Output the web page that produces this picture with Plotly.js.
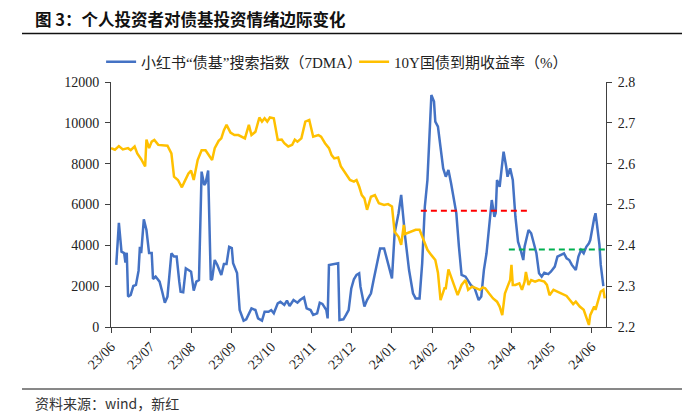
<!DOCTYPE html>
<html>
<head>
<meta charset="utf-8">
<script src="https://cdn.plot.ly/plotly-3.0.1.min.js"></script>
<style>html,body{margin:0;padding:0;background:#fff;}#chart{width:700px;height:420px;}</style>
</head>
<body>
<div id="chart"></div>
<script>
// ---- Data ----
const searchDates = [
'2023-06-05','2023-06-07','2023-06-09','2023-06-11','2023-06-12','2023-06-13','2023-06-14','2023-06-16','2023-06-18','2023-06-20',
'2023-06-22','2023-06-23','2023-06-24','2023-06-26','2023-06-28','2023-06-30','2023-07-02','2023-07-03','2023-07-05','2023-07-08',
'2023-07-10','2023-07-12','2023-07-14','2023-07-16','2023-07-17','2023-07-19','2023-07-21','2023-07-23','2023-07-24','2023-07-26',
'2023-07-28','2023-07-30','2023-08-01','2023-08-03','2023-08-05','2023-08-07','2023-08-09','2023-08-11','2023-08-12','2023-08-14',
'2023-08-16','2023-08-17','2023-08-19','2023-08-21','2023-08-24','2023-08-26','2023-08-28','2023-08-30','2023-09-01','2023-09-02',
'2023-09-05','2023-09-07','2023-09-10','2023-09-12','2023-09-16','2023-09-19','2023-09-21','2023-09-24','2023-09-26','2023-09-29',
'2023-10-01','2023-10-03','2023-10-06','2023-10-08','2023-10-11','2023-10-13','2023-10-15','2023-10-18','2023-10-21','2023-10-23',
'2023-10-26','2023-10-28','2023-10-31','2023-11-02','2023-11-05','2023-11-07','2023-11-09','2023-11-12','2023-11-13','2023-11-14',
'2023-11-17','2023-11-21','2023-11-22','2023-11-25','2023-11-27','2023-11-29','2023-12-01','2023-12-03','2023-12-05','2023-12-07',
'2023-12-08','2023-12-11','2023-12-13','2023-12-16','2023-12-18','2023-12-21','2023-12-23','2023-12-26','2023-12-28','2024-01-01',
'2024-01-03','2024-01-06','2024-01-08','2024-01-11','2024-01-14','2024-01-17','2024-01-19','2024-01-22','2024-01-24','2024-01-26',
'2024-01-28','2024-01-30','2024-01-31','2024-02-02','2024-02-03','2024-02-05','2024-02-07','2024-02-09','2024-02-11','2024-02-13',
'2024-02-15','2024-02-16','2024-02-19','2024-02-21','2024-02-23','2024-02-26','2024-03-01','2024-03-04','2024-03-07','2024-03-09',
'2024-03-11','2024-03-13','2024-03-15','2024-03-17','2024-03-19','2024-03-20','2024-03-21','2024-03-23','2024-03-24','2024-03-26',
'2024-03-28','2024-03-29','2024-03-31','2024-04-02','2024-04-04','2024-04-06','2024-04-08','2024-04-10','2024-04-11','2024-04-14',
'2024-04-16','2024-04-18','2024-04-20','2024-04-22','2024-04-24','2024-04-26','2024-04-29','2024-05-01','2024-05-04','2024-05-06',
'2024-05-09','2024-05-11','2024-05-13','2024-05-15','2024-05-17','2024-05-20','2024-05-22','2024-05-24','2024-05-26','2024-05-28',
'2024-05-30','2024-05-31','2024-06-03','2024-06-04','2024-06-05','2024-06-07','2024-06-08','2024-06-10'
];
const searchIndex = [
3040,5100,3690,3620,3150,3640,1490,1570,2010,2060,
2760,3930,3620,5270,4750,3620,3620,2350,2470,2220,
1730,1190,1490,3200,3610,3450,3450,2220,1730,1700,
2870,2790,2710,1780,2220,2300,7610,6960,7040,7660,
2300,2350,3280,3040,2550,3090,3090,3930,3870,3120,
2645,830,310,375,910,830,420,310,750,750,
830,670,1160,1240,1080,1290,1030,1320,1190,1320,
1450,910,830,590,670,1190,1130,830,420,3040,
3090,3120,340,375,590,830,1890,2340,2550,2630,
1975,1000,1320,1650,2300,3200,3850,3850,3360,2380,
4590,5570,6470,4430,2790,1650,1400,1400,3120,5890,
7200,9650,11360,11040,10060,9810,8670,7770,7360,7690,
7040,6710,5570,3930,2550,2465,2060,1890,1320,1490,
2790,3610,5080,6220,5400,5600,7200,6870,7450,8590,
7850,7360,7770,7200,5400,4180,3770,3280,3930,4750,
4590,4100,3610,2630,2465,2660,2590,2710,2960,3450,
3530,3610,3360,3280,3040,2790,3450,3770,3610,3930,
4100,4260,5320,5570,5080,4020,3040,2000
];

const yieldDates = [
'2023-06-01','2023-06-04','2023-06-07','2023-06-10','2023-06-14','2023-06-16','2023-06-19','2023-06-21','2023-06-24','2023-06-27',
'2023-06-28','2023-06-30','2023-07-02','2023-07-04','2023-07-07','2023-07-11','2023-07-14','2023-07-17','2023-07-19','2023-07-22',
'2023-07-25','2023-07-27','2023-07-30','2023-08-01','2023-08-03','2023-08-06','2023-08-09','2023-08-12','2023-08-17','2023-08-19',
'2023-08-22','2023-08-24','2023-08-26','2023-08-28','2023-08-31','2023-09-03','2023-09-06','2023-09-11','2023-09-14','2023-09-16',
'2023-09-19','2023-09-22','2023-09-24','2023-09-26','2023-09-28','2023-09-30','2023-10-03','2023-10-06','2023-10-09','2023-10-11',
'2023-10-14','2023-10-17','2023-10-19','2023-10-21','2023-10-24','2023-10-27','2023-10-30','2023-11-02','2023-11-06','2023-11-08',
'2023-11-11','2023-11-14','2023-11-16','2023-11-18','2023-11-21','2023-11-23','2023-11-25','2023-11-28','2023-11-30','2023-12-03',
'2023-12-05','2023-12-07','2023-12-09','2023-12-11','2023-12-13','2023-12-16','2023-12-19','2023-12-22','2023-12-26','2023-12-29',
'2024-01-01','2024-01-03','2024-01-06','2024-01-08','2024-01-10','2024-01-11','2024-01-15','2024-01-19','2024-01-22','2024-01-25',
'2024-01-28','2024-01-31','2024-02-03','2024-02-05','2024-02-07','2024-02-10','2024-02-11','2024-02-13','2024-02-16','2024-02-18',
'2024-02-20','2024-02-23','2024-02-26','2024-02-28','2024-03-02','2024-03-05','2024-03-08','2024-03-10','2024-03-12','2024-03-15',
'2024-03-18','2024-03-21','2024-03-23','2024-03-25','2024-03-27','2024-03-29','2024-03-31','2024-04-01','2024-04-02','2024-04-04',
'2024-04-07','2024-04-09','2024-04-11','2024-04-12','2024-04-14','2024-04-16','2024-04-19','2024-04-22','2024-04-26','2024-04-28',
'2024-04-30','2024-05-03','2024-05-06','2024-05-10','2024-05-13','2024-05-15','2024-05-18','2024-05-20','2024-05-23','2024-05-26',
'2024-05-28','2024-05-30','2024-05-31','2024-06-03','2024-06-04','2024-06-06','2024-06-08','2024-06-10','2024-06-11'
];
const yield10Y = [
2.638,2.634,2.643,2.635,2.638,2.633,2.642,2.625,2.611,2.593,
2.659,2.638,2.654,2.658,2.646,2.644,2.644,2.625,2.568,2.560,
2.542,2.556,2.576,2.583,2.560,2.609,2.633,2.633,2.609,2.638,
2.656,2.662,2.682,2.695,2.676,2.670,2.670,2.662,2.695,2.670,
2.678,2.713,2.703,2.711,2.703,2.713,2.711,2.658,2.659,2.650,
2.642,2.646,2.659,2.654,2.662,2.703,2.707,2.666,2.670,2.666,
2.650,2.638,2.621,2.613,2.615,2.594,2.584,2.572,2.560,2.556,
2.560,2.544,2.523,2.515,2.487,2.519,2.523,2.503,2.499,2.501,
2.495,2.433,2.421,2.401,2.450,2.428,2.433,2.438,2.438,2.413,
2.389,2.376,2.364,2.333,2.266,2.295,2.295,2.341,2.315,2.299,
2.278,2.303,2.315,2.291,2.299,2.295,2.291,2.297,2.295,2.282,
2.270,2.262,2.250,2.229,2.282,2.299,2.315,2.352,2.303,2.303,
2.307,2.291,2.311,2.335,2.303,2.315,2.311,2.315,2.311,2.303,
2.278,2.291,2.287,2.282,2.276,2.268,2.256,2.262,2.250,2.242,
2.225,2.205,2.229,2.250,2.242,2.266,2.287,2.291,2.270
];

// reference levels (left axis)
const redLevelDates = ['2024-01-23','2024-04-15'];
const redLevel = 5700;
const greenLevelDates = ['2024-03-30','2024-06-12'];
const greenLevel = 3800;

const monthTicks = ['2023-06-01','2023-07-01','2023-08-01','2023-09-01','2023-10-01','2023-11-01','2023-12-01',
                    '2024-01-01','2024-02-01','2024-03-01','2024-04-01','2024-05-01','2024-06-01'];
const monthLabels = ['23/06','23/07','23/08','23/09','23/10','23/11','23/12','24/01','24/02','24/03','24/04','24/05','24/06'];

const seriesNames = ['小红书“债基”搜索指数（7DMA）','10Y国债到期收益率（%）'];
const titleText = '图 3：个人投资者对债基投资情绪边际变化';
const sourceText = '资料来源：wind，新红';

// ---- Chart ----
const serif = 'Liberation Serif, Times New Roman, Noto Sans CJK SC, serif';
const axisColor = '#404040';
const tickFont = {family: serif, size: 14, color: '#222'};

const traces = [
  {x: searchDates, y: searchIndex, name: seriesNames[0], type: 'scatter', mode: 'lines',
   line: {color: '#4472C4', width: 2.5}, yaxis: 'y'},
  {x: yieldDates, y: yield10Y, name: seriesNames[1], type: 'scatter', mode: 'lines',
   line: {color: '#FFC000', width: 2.5}, yaxis: 'y2'},
  {x: redLevelDates, y: redLevelDates.map(() => redLevel), type: 'scatter', mode: 'lines', showlegend: false,
   line: {color: '#FF0000', width: 2, dash: '6px,4px'}, yaxis: 'y', hoverinfo: 'skip'},
  {x: greenLevelDates, y: greenLevelDates.map(() => greenLevel), type: 'scatter', mode: 'lines', showlegend: false,
   line: {color: '#00B050', width: 2, dash: '6px,4px'}, yaxis: 'y', hoverinfo: 'skip'}
];

const layout = {
  width: 700, height: 420,
  margin: {l: 111, r: 94, t: 82, b: 93, pad: 0},
  paper_bgcolor: '#ffffff', plot_bgcolor: '#ffffff',
  title: {text: '<b>' + titleText + '</b>', x: 35/700, xref: 'container', xanchor: 'left',
          y: 1 - 20.5/420, yref: 'container', yanchor: 'middle',
          font: {family: 'Noto Sans CJK SC, sans-serif', size: 16.5, color: '#111'}},
  showlegend: true,
  legend: {orientation: 'h', x: -0.02, y: 1.082, xanchor: 'left', yanchor: 'middle',
           font: {family: serif, size: 15, color: '#222'}, bgcolor: 'rgba(0,0,0,0)',
           itemwidth: 30, tracegroupgap: 0, entrywidthmode: 'pixels', entrywidth: 208},
  xaxis: {type: 'date', range: ['2023-06-01', '2024-06-12'], tickmode: 'array',
          tickvals: monthTicks, ticktext: monthLabels, tickangle: -45,
          ticks: 'outside', ticklen: 5, tickcolor: axisColor, showline: true, linecolor: axisColor, linewidth: 1,
          showgrid: false, zeroline: false, tickfont: tickFont, fixedrange: true},
  yaxis: {range: [0, 12000], tick0: 0, dtick: 2000, tickformat: 'd', ticks: 'outside', ticklen: 5, tickcolor: axisColor,
          showline: true, linecolor: axisColor, linewidth: 1, showgrid: false, zeroline: false,
          tickfont: tickFont, ticklabelstandoff: 3},
  yaxis2: {range: [2.2, 2.8], tick0: 2.2, dtick: 0.1, tickformat: '.1f', overlaying: 'y', side: 'right',
           ticks: 'outside', ticklen: 5, tickcolor: axisColor, showline: true, linecolor: axisColor, linewidth: 1,
           showgrid: false, zeroline: false, tickfont: tickFont, ticklabelstandoff: 3},
  shapes: [
    {type: 'line', xref: 'paper', yref: 'paper', x0: (22-111)/495, x1: (682-111)/495,
     y0: (327-33.5)/245, y1: (327-33.5)/245, line: {color: '#111', width: 1.5}},
    {type: 'line', xref: 'paper', yref: 'paper', x0: (22-111)/495, x1: (682-111)/495,
     y0: (327-389)/245, y1: (327-389)/245, line: {color: '#111', width: 1}}
  ],
  annotations: [
    {text: sourceText, xref: 'paper', yref: 'paper', x: (33-111)/495, y: (327-403)/245,
     xanchor: 'left', yanchor: 'middle', showarrow: false,
     font: {family: 'Noto Sans CJK SC, sans-serif', size: 14, color: '#333'}}
  ]
};

Plotly.newPlot('chart', traces, layout, {staticPlot: true, displayModeBar: false});
</script>
</body>
</html>
